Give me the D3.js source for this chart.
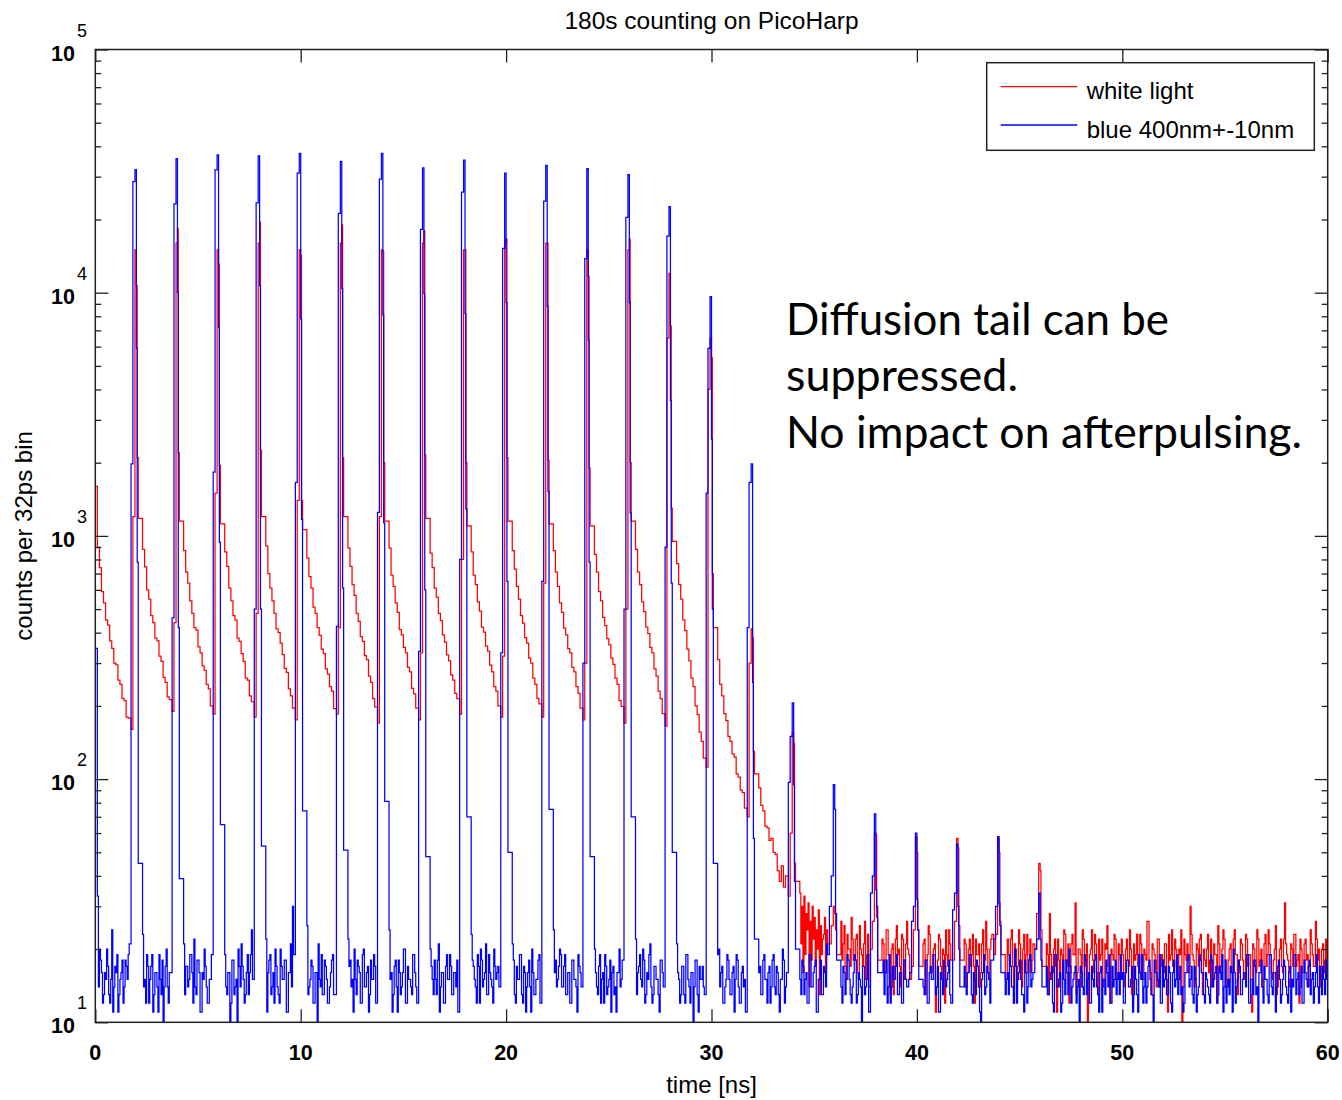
<!DOCTYPE html>
<html lang="en">
<head>
<meta charset="utf-8">
<title>180s counting on PicoHarp</title>
<script src="https://d3js.org/d3.v7.min.js"></script>
<style>
  body { margin: 0; background: #fff; }
  svg text { font-family: "Liberation Sans", Arial, sans-serif; fill: #000; }
</style>
</head>
<body>
<div id="chart"></div>
<script>
// ---- data: counts per 32ps bin, every 0.1 ns, one array per 10 ns ----
// the six samples around each laser pulse are narrower than 0.1 ns, see peakOffsets
var chunkStarts = [0, 10, 20, 30, 40, 50];
var timeStep = 0.1;
var peakTimes = [2,4,6,8,10,12,14,16,18,20,22,24,26,28,30,32,34,36,38,40,42,44,46];
var peakOffsets = [-0.26, -0.17, -0.07, 0.0, 0.04, 0.09];
var firstPeakIndex = 17;
// in the flat noise floor a second reading sits half way between grid points
var noiseLevel = 36;

// blue 400nm+-10nm
var blue00 = [345,33, 20,16,13,15,17,12,24,14,16,11,15,18,14,17,19,
  1980,28600,32100,5900,780,45, 23,15,19,12,17,11,16,14,19,13,10,17,14,16,
  460,23200,35600,10000,420,39, 21,17,14,19,16,22,13,18,11,16,20,14,12,15,
  1830,32000,36900,7200,940,65, 19,13,16,12,18,14,10,17,21,15,13,19,16,24,
  500,23400,36500,10700,500,53, 22,16,19,14,12,17,13,20,15,18,11,16,21,30,
  1660,31000,37400];
var blue10 = [7800,1170,74, 25,14,18,12,16,10,15,19,13,17,12,14,18,13,
  425,21200,34700,10400,610,51, 22,18,15,20,13,17,12,19,14,16,11,18,15,17,
  1250,29300,37400,8100,1130,81, 24,16,13,18,11,16,14,20,12,17,15,13,19,14,
  335,18200,32600,9900,600,48, 20,15,18,13,21,14,16,12,19,15,17,13,16,18,
  800,25900,35100,8200,1290,70, 23,17,14,19,12,18,15,21,13,16,14,20,15,17,
  330,15200,31000];
var blue20 = [9100,650,50, 21,13,17,15,19,12,16,14,18,11,16,13,15,19,
  650,23800,33400,8800,1520,75, 24,18,15,20,14,17,13,16,12,18,15,14,19,16,
  300,13800,32400,6400,780,48, 20,14,17,12,16,19,13,15,11,17,14,16,20,15,
  500,20400,30600,9100,1240,70, 22,16,19,14,18,13,15,21,12,17,15,13,18,16,
  900,17100,22600,3600,640,50, 21,15,13,17,12,19,14,16,10,18,13,17,15,14,
  1500,5900,9640];
var blue30 = [2500,500,45, 19,14,17,12,15,18,13,16,11,19,14,12,17,15,
  420,1660,1980,250,57,22, 16,13,18,15,12,17,14,19,13,16,11,15,18,14,
  97,150,206,95,38,20, 15,18,13,16,12,19,14,17,11,15,18,13,16,21,
  30,40,95,75,28,18, 14,17,13,19,15,12,16,18,13,15,9,17,14,19,
  34,40,72,35,30,16, 16,13,18,14,12,17,15,19,13,16,12,18,14,15,
  26,30,60];
var blue40 = [32,24,15, 14,18,12,16,15,19,13,17,11,15,18,14,16,13,
  29,34,54,30,20,14, 17,13,16,19,12,15,18,14,9,16,13,17,15,18,
  22,30,58,31,25,16, 13,16,19,14,12,17,15,18,13,11,16,14,19,15,
  20,22,34,22,18,14,
  17,13,16,12,19,14,15,11,18,13,16,20,12,15,17,14,10,16,13,18,15,12,17,14,19,13,16,11,15,18,14,12,17,15,13,16,19];
var blue50 = [16,12,18,14,15,11,17,13,19,15,12,16,14,18,13,9,16,15,19,12,
  14,17,13,16,11,18,15,13,17,14,12,16,19,15,13,17,11,14,18,16,
  12,15,13,19,14,16,12,17,15,11,18,14,13,16,20,12,15,17,13,16,
  14,19,12,15,18,13,9,16,14,17,15,12,19,13,16,14,18,12,15,17,
  13,16,11,14,19,15,13,17,12,16,14,18,15,12,16,14,17,13,15,18,16];
// half-step readings of the blue noise floor, in time order
var blueHalf0to20 = [14,18,12,16,20,13,15,11,17,19,13,16,12,18,15,21,14,12,17,15,
  19,13,16,11,15,18,14,20,12,16,13,17,15,19,12,14,18,16,11,15,
  17,12,15,19,14,16,10,18,13,15,20,14,17,12,16,13,19,15,11,18,
  13,16,20,14,12,17,15,18,11,16,14,19,13,15,17,12,16,21,14,13,
  18,15,12,16,19,13,17,14,11,15,18,16,12,20,14,17,13,15,19,12,
  15,11,17,14,18,13,16,20,12,15,14,19,16,12,17,13,15,18,11,16,
  12,17,15,19,13,16,14,11,18,15,12,17,20,14,16,13,19,15,12,17,
  16,14,18,12,15,19,13,17,11,16,14,20,13,15,18,12,16,14,17,19];
var blueHalf20to40 = [14,19,13,16,12,18,15,11,17,14,16,13,19,15,12,17,14,18,16,13,
  11,16,14,18,13,17,15,20,12,16,19,14,13,17,15,11,18,14,16,12,
  17,13,19,15,12,16,14,18,11,15,17,13,20,16,12,14,19,15,13,17,
  15,18,12,16,14,11,17,13,19,15,16,12,18,14,17,13,15,20,12,16,
  13,17,15,12,19,14,16,18,11,15,13,17,14,19,12,16,15,18,13,14,
  19,12,16,14,17,13,15,11,18,16,12,19,14,15,17,13,16,12,18,15,
  14,16,13,18,12,17,15,19,14,11,16,13,17,15,18,12,14,16,19,13,
  16,13,17,11,15,19,14,16,12,18,15,13,17,14,20,12,16,15,13,18];
var blueHalf40to60 = [12,18,14,16,13,15,17,11,19,14,16,12,15,18,13,17,14,16,12,15,
  17,14,19,13,16,12,15,18,14,11,17,15,13,16,19,12,14,18,15,13,
  15,12,16,18,14,17,13,15,11,16,19,14,12,17,15,13,18,16,14,12,
  18,15,13,17,12,16,14,19,15,13,11,16,18,14,17,12,15,13,19,16,
  13,16,14,12,18,15,17,13,16,19,14,12,15,17,11,16,14,18,13,15,
  16,19,12,15,13,17,14,16,18,12,15,13,19,14,16,11,17,15,13,18,
  14,12,17,15,19,13,16,14,12,18,15,17,13,16,14,19,12,15,17,13,
  15,17,13,16,14,18,12,15,19,13,16,14,11,17,15,13,18,16,12,14];

// white light
var red00 = [1600,900,740,590,530,450,430,370,345,300,295,255,245,215,210,180,178,
  160,1200,15000,10700,
  2100,1180,880,745,600,550,470,440,380,370,320,305,262,250,218,212,
  190,440,16000,18300,
  2200,1150,870,710,640,540,480,420,410,350,330,292,280,245,235,200,
  185,1500,15000,13100,
  1950,1120,860,750,610,540,470,450,380,368,328,305,260,255,220,208,
  180,480,16000,19500,
  2250,1200,910,700,610,540,480,415,400,362,325,285,275,235,220,196,
  175,1400,15000];
var red10 = [14200,
  1400,1060,810,680,610,510,480,420,390,342,328,284,270,240,230,195,
  185,420,16000,19000,
  2100,1200,890,750,630,570,480,445,385,368,322,310,265,250,214,198,
  170,1200,15000,14800,
  2000,1150,890,690,620,530,485,412,392,348,330,288,276,236,224,196,
  175,330,16000,18000,
  2150,1180,850,740,610,560,480,448,392,366,324,306,268,255,225,214,
  185,800,15000,15000,
  2000,1100,860,690,630,535,490,422,402,352,336,294,276,240,230,200,
  180,320,16000];
var red20 = [16600,
  2100,1150,870,730,620,550,470,438,382,362,314,300,260,245,215,204,
  180,640,16000,16000,
  2050,1120,870,710,620,530,485,418,392,344,330,288,276,240,225,196,
  175,300,15000,11700,
  1900,1100,840,710,590,540,462,428,378,356,314,296,260,245,210,199,
  170,500,15000,16600,
  2000,1150,880,710,630,535,488,422,396,348,330,284,265,230,214,186,
  165,6500,12000,7300,
  1300,950,770,630,550,452,408,342,306,260,240,200,184,156,143,122,
  112,4000,6500];
var red30 = [5400,
  700,420,310,245,220,186,174,150,143,127,123,105,102,90,88,76,
  70,300,415,380,
  130,105,92,78,74,64,63,56,57,50,49,42,38,44,36,40,
  33,60,155,140,
  45,38,34,30,33,28,31,26,30,27,24,29,25,22,27,24,
  21,25,30,28,
  24,19,26,21,17,23,20,27,18,22,16,25,19,21,15,23,
  20,26,60,59,
  27,18,22,16,24,19,13,21,17,25,20,14,22,18,26,19,
  17,24,58];
var red40 = [50,
  24,17,21,13,19,23,16,20,11,18,22,15,19,24,17,21,
  18,26,57,52,
  25,18,22,14,20,17,23,12,19,21,16,24,18,20,15,22,
  19,23,57,50,
  26,19,15,22,18,24,12,20,17,21,14,23,19,16,22,18,
  20,28,45,42,
  24,17,21,13,19,16,22,11,18,20,15,23,17,12,21,19,31,16,20,14,22,18,10,19,24,16,21,13,18,22,15,20,17,12,19,23,16,21,18];
var red50 = [19,14,22,17,20,12,18,23,16,21,15,19,26,17,13,20,18,22,14,19,
  16,21,11,18,24,17,20,15,19,10,22,18,16,30,19,14,21,17,23,13,
  18,20,16,22,15,19,12,21,17,24,18,14,20,16,22,19,13,18,21,15,
  23,17,19,11,20,16,22,18,14,21,17,24,19,15,20,13,18,22,16,31,
  19,14,21,17,23,18,12,20,16,22,19,15,21,17,26,18,14,20,16,22,18];
// half-step readings of the red noise floor (from about 33 ns on), in time order
var redHalf = [21,16,19,24,14,18,22,17,20,13,19,23,16,21,18,25,15,20,17,22,
  18,23,15,20,17,26,19,14,21,18,24,16,20,13,22,19,17,23,15,21,
  20,15,22,18,25,16,19,21,14,23,17,20,12,19,24,18,21,16,22,19,
  17,22,19,14,21,18,26,16,20,23,15,19,22,17,21,14,24,18,20,16,
  23,18,16,21,19,28,15,20,17,22,14,19,24,18,21,16,23,19,13,20,
  19,24,17,21,15,20,18,23,16,22,19,14,21,25,17,20,18,22,15,19,
  22,16,20,18,24,13,21,19,17,23,15,20,18,26,16,21,19,14,22,17,
  18,21,15,23,19,17,22,16,20,24,14,19,21,17,23,18,15,20,22,16,
  20,17,23,18,14,21,19,25,16,20,22,15,18,21,17,24,19,16,22,18,
  16,22,19,13,21,18,24,17,20,15,23,19,21,16,18,25,14,20,17,22,
  21,18,15,20,23,17,19,22,16,21,18,14,24,19,17,22,20,15,21,18,
  17,20,24,16,19,22,15,21,18,23,16,20,19,14,22,17,21,18,24,19];

var xTicks = [0, 10, 20, 30, 40, 50, 60];
var yMajor = [10, 100, 1000, 10000, 100000];
var yExp = ["1", "2", "3", "4", "5"];
var seriesNames = ["white light", "blue 400nm+-10nm"];
var seriesColors = ["#ff0000", "#0000ff"];

// time of sample i: 0.1 ns grid, except the samples that make up a pulse
function sampleTime(i) {
  var r = i - firstPeakIndex;
  if (r >= 0) {
    var k = Math.floor(r / 20), j = r % 20;
    if (k < peakTimes.length && j < peakOffsets.length) {
      return { t: peakTimes[k] + peakOffsets[j], pulse: true };
    }
  }
  return { t: i * timeStep, pulse: false };
}

function toPoints(chunks, halfVals) {
  var pts = [], h = 0;
  chunks.forEach(function(vals, c) {
    var base = Math.round(chunkStarts[c] / timeStep);
    vals.forEach(function(v, j) {
      var s = sampleTime(base + j);
      pts.push({ t: s.t, v: v });
      if (!s.pulse && v < noiseLevel && h < halfVals.length) {
        pts.push({ t: s.t + timeStep / 2, v: halfVals[h++] });
      }
    });
  });
  return pts;
}
var redPts = toPoints([red00, red10, red20, red30, red40, red50], redHalf);
var bluePts = toPoints([blue00, blue10, blue20, blue30, blue40, blue50],
  blueHalf0to20.concat(blueHalf20to40, blueHalf40to60));

// ---- layout ----
var width = 1342, height = 1100;
var plotL = 95.3, plotR = 1327.7, plotT = 49.5, plotB = 1022.3;

var svg = d3.select("#chart").append("svg")
  .attr("width", width)
  .attr("height", height);

var x = d3.scaleLinear().domain([0, 60]).range([plotL, plotR]);
var y = d3.scaleLog().domain([10, 100000]).range([plotB, plotT]);

svg.append("clipPath").attr("id", "plotclip")
  .append("rect")
  .attr("x", plotL).attr("y", plotT)
  .attr("width", plotR - plotL).attr("height", plotB - plotT);

var line = d3.line()
  .x(function(d) { return x(d.t); })
  .y(function(d) { return y(d.v); })
  .curve(d3.curveStepAfter);

var plot = svg.append("g").attr("clip-path", "url(#plotclip)");
plot.append("path").datum(redPts)
  .attr("d", line)
  .attr("fill", "none")
  .attr("stroke", seriesColors[0])
  .attr("stroke-width", 1.25);
plot.append("path").datum(bluePts)
  .attr("d", line)
  .attr("fill", "none")
  .attr("stroke", seriesColors[1])
  .attr("stroke-width", 1.25);

// minor y ticks 2..9 per decade
var yMinor = [];
yMajor.slice(0, -1).forEach(function(m) {
  for (var k = 2; k <= 9; k++) yMinor.push(m * k);
});

function styleAxis(g) {
  g.select(".domain").remove();
  g.selectAll(".tick line").attr("stroke", "#222").attr("stroke-width", 1.3);
}

// ticks point inward on all four sides
svg.append("g").attr("transform", "translate(0," + plotB + ")")
  .call(d3.axisBottom(x).tickValues(xTicks).tickSize(-13).tickFormat(""))
  .call(styleAxis);
svg.append("g").attr("transform", "translate(0," + plotT + ")")
  .call(d3.axisTop(x).tickValues(xTicks).tickSize(-13).tickFormat(""))
  .call(styleAxis);
svg.append("g").attr("transform", "translate(" + plotL + ",0)")
  .call(d3.axisLeft(y).tickValues(yMajor).tickSize(-13).tickFormat(""))
  .call(styleAxis);
svg.append("g").attr("transform", "translate(" + plotL + ",0)")
  .call(d3.axisLeft(y).tickValues(yMinor).tickSize(-6).tickFormat(""))
  .call(styleAxis);
svg.append("g").attr("transform", "translate(" + plotR + ",0)")
  .call(d3.axisRight(y).tickValues(yMajor).tickSize(-13).tickFormat(""))
  .call(styleAxis);
svg.append("g").attr("transform", "translate(" + plotR + ",0)")
  .call(d3.axisRight(y).tickValues(yMinor).tickSize(-6).tickFormat(""))
  .call(styleAxis);

// frame
svg.append("rect")
  .attr("x", plotL).attr("y", plotT)
  .attr("width", plotR - plotL).attr("height", plotB - plotT)
  .attr("fill", "none")
  .attr("stroke", "#222")
  .attr("stroke-width", 1.5);

// x tick labels
svg.selectAll("text.xlab").data(xTicks).enter().append("text")
  .attr("class", "xlab")
  .attr("x", function(d) { return x(d); })
  .attr("y", 1060)
  .attr("text-anchor", "middle")
  .style("font-size", "21.5px")
  .style("font-weight", "bold")
  .text(function(d) { return d; });

// y tick labels: 10 with exponent
svg.selectAll("text.ybase").data(yMajor).enter().append("text")
  .attr("class", "ybase")
  .attr("x", 75)
  .attr("y", function(d) { return y(d) + 11; })
  .attr("text-anchor", "end")
  .style("font-size", "21.5px")
  .style("font-weight", "bold")
  .text("10");
svg.selectAll("text.yexp").data(yMajor).enter().append("text")
  .attr("class", "yexp")
  .attr("x", 77)
  .attr("y", function(d) { return y(d) - 13; })
  .style("font-size", "18px")
  .text(function(d, i) { return yExp[i]; });

// titles
svg.append("text")
  .attr("x", (plotL + plotR) / 2).attr("y", 29)
  .attr("text-anchor", "middle")
  .style("font-size", "24.5px")
  .text("180s counting on PicoHarp");
svg.append("text")
  .attr("x", (plotL + plotR) / 2).attr("y", 1093)
  .attr("text-anchor", "middle")
  .style("font-size", "24px")
  .text("time [ns]");
svg.append("text")
  .attr("transform", "translate(32," + ((plotT + plotB) / 2) + ") rotate(-90)")
  .attr("text-anchor", "middle")
  .style("font-size", "24px")
  .text("counts per 32ps bin");

// legend
var legend = svg.append("g");
legend.append("rect")
  .attr("x", 986.7).attr("y", 62.7)
  .attr("width", 327.6).attr("height", 87.6)
  .attr("fill", "#fff")
  .attr("stroke", "#222")
  .attr("stroke-width", 1.5);
var legendRows = [86.7, 125];
seriesNames.forEach(function(name, i) {
  legend.append("line")
    .attr("x1", 1000.7).attr("x2", 1077.3)
    .attr("y1", legendRows[i]).attr("y2", legendRows[i])
    .attr("stroke", seriesColors[i])
    .attr("stroke-width", 1.3);
  legend.append("text")
    .attr("x", 1086.7).attr("y", legendRows[i] + 12.5)
    .style("font-size", "24px")
    .text(name);
});

// note on the slide
var noteLines = ["Diffusion tail can be", "suppressed.", "No impact on afterpulsing."];
var noteWidths = [383, 232, 516];
var noteBase = [335, 391, 448];
noteLines.forEach(function(s, i) {
  svg.append("text")
    .attr("x", 786).attr("y", noteBase[i])
    .attr("textLength", noteWidths[i])
    .attr("lengthAdjust", "spacingAndGlyphs")
    .style("font-family", "Lato, 'Open Sans', sans-serif")
    .style("font-size", "45px")
    .text(s);
});
</script>
</body>
</html>
